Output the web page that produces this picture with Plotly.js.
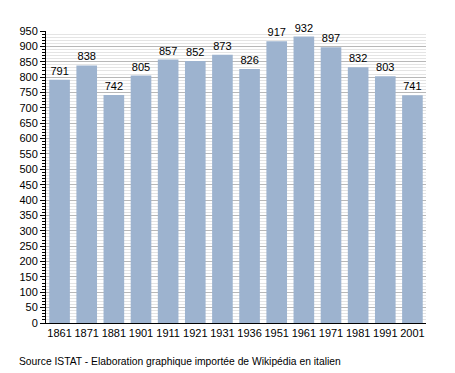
<!DOCTYPE html>
<html>
<head>
<meta charset="utf-8">
<script src="https://cdn.plot.ly/plotly-3.0.1.min.js"></script>
<style>html,body{margin:0;padding:0;background:#fff;}#chart{width:455px;height:373px;}</style>
</head>
<body>
<div id="chart"></div>
<script>
var years = ["1861","1871","1881","1901","1911","1921","1931","1936","1951","1961","1971","1981","1991","2001"];
var population = [791,838,742,805,857,852,873,826,917,932,897,832,803,741];
var sourceNote = "Source ISTAT - Elaboration graphique importée de Wikipédia en italien";

var trace = {
  type: "bar",
  x: years,
  y: population,
  text: population.map(String),
  textposition: "outside",
  cliponaxis: false,
  textfont: {family: "Liberation Sans, Arial, sans-serif", size: 11, color: "#000"},
  marker: {color: "#9db3cf", line: {width: 0}},
  hoverinfo: "x+y"
};

var layout = {
  width: 455, height: 373,
  margin: {l: 46, r: 29, t: 31, b: 50},
  paper_bgcolor: "#fff", plot_bgcolor: "#fff",
  bargap: 0.24,
  showlegend: false,
  font: {family: "Liberation Sans, Arial, sans-serif", size: 11, color: "#000"},
  xaxis: {
    type: "category",
    showline: true, linecolor: "#000", linewidth: 1,
    ticks: "", showgrid: false, zeroline: false,
    tickfont: {size: 11}
  },
  yaxis: {
    range: [0, 950], dtick: 50, tick0: 0,
    showline: true, linecolor: "#000", linewidth: 1,
    ticks: "outside", ticklen: 5, tickcolor: "#000",
    showgrid: true, gridcolor: "#b8b8b8", gridwidth: 1,
    zeroline: false,
    tickfont: {size: 11},
    minor: {dtick: 10, showgrid: true, gridcolor: "#e4e4e4", ticks: "outside", ticklen: 3, tickcolor: "#000"}
  },
  annotations: [{
    text: sourceNote, xref: "paper", yref: "paper",
    x: -0.076, y: -0.106, xanchor: "left", yanchor: "top", showarrow: false,
    font: {size: 10.3, color: "#000"}
  }]
};

Plotly.newPlot("chart", [trace], layout, {displayModeBar: false, staticPlot: true});
</script>
</body>
</html>
